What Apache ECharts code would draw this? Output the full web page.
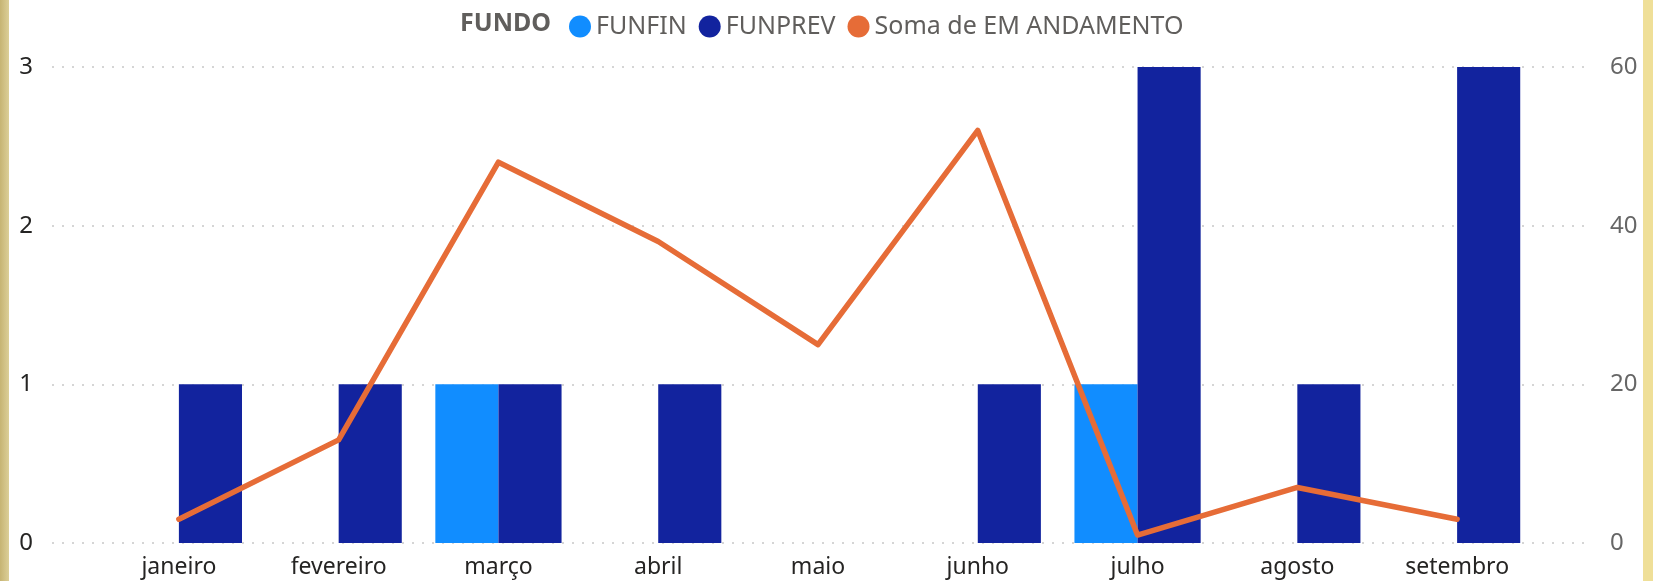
<!DOCTYPE html>
<html>
<head>
<meta charset="utf-8">
<script src="https://cdn.jsdelivr.net/npm/echarts@6/dist/echarts.min.js"></script>
<style>
  html, body { margin: 0; padding: 0; background: #fff; }
  #wrap { position: relative; width: 1653px; height: 581px; }
  #chart { width: 1653px; height: 581px; }
  /* bordas amareladas do visual */
  .edge { position: absolute; top: 0; height: 581px; }
  .edge.left { left: 0; width: 9px; background: linear-gradient(to right, #c6b473, #dccf98); }
  .edge.right { right: 0; width: 10px; background: #efdf98; }
</style>
</head>
<body>
<div id="wrap">
  <div id="chart"></div>
  <div class="edge left"></div>
  <div class="edge right"></div>
</div>
<script>
// meses (eixo x)
const meses = ['janeiro', 'fevereiro', 'março', 'abril', 'maio', 'junho', 'julho', 'agosto', 'setembro']
// contagem por fundo (eixo esquerdo)
const funfin = [null, null, 1, null, null, null, 1, null, null]
const funprev = [1, 1, 1, 1, null, 1, 3, 1, 3]
// soma de EM ANDAMENTO (eixo direito)
const emAndamento = [3, 13, 48, 38, 25, 52, 1, 7, 3]
// ticks dos eixos
const ticksEsq = [0, 3, 1]   // min, max, intervalo
const ticksDir = [0, 60, 20]

const fonte = '"Noto Sans", "Open Sans", sans-serif'
const grade = { color: '#c8c8c8', type: [2, 8], width: 1.5 }

const chart = echarts.init(document.getElementById('chart'))

const option = {
  animation: false,
  title: {
    text: 'FUNDO',
    left: 455,
    top: 6,
    textStyle: { fontFamily: fonte, fontSize: 25, fontWeight: 'bold', color: '#605E5C' }
  },
  legend: {
    left: 564,
    top: 9,
    icon: 'circle',
    itemWidth: 22,
    itemHeight: 22,
    itemGap: 12,
    textStyle: { fontFamily: fonte, fontSize: 25, color: '#605E5C' },
    data: ['FUNFIN', 'FUNPREV', 'Soma de EM ANDAMENTO']
  },
  // grid 0: linhas de grade e rótulos dos eixos y; grid 1: área das barras
  grid: [
    { left: 52, right: 62, top: 67, bottom: 38 },
    { left: 99, right: 116, top: 67, bottom: 38 }
  ],
  xAxis: [
    { type: 'value', gridIndex: 0, show: false },
    {
      type: 'category',
      gridIndex: 1,
      data: meses,
      axisLine: { show: false },
      axisTick: { show: false },
      axisLabel: { fontFamily: fonte, fontSize: 23, color: '#252423', margin: 13, interval: 0 }
    }
  ],
  yAxis: [
    {
      type: 'value', gridIndex: 0, position: 'left',
      min: ticksEsq[0], max: ticksEsq[1], interval: ticksEsq[2],
      axisLine: { show: false }, axisTick: { show: false },
      axisLabel: { fontFamily: fonte, fontSize: 24, color: '#252423', margin: 19 },
      splitLine: { lineStyle: grade }
    },
    {
      type: 'value', gridIndex: 0, position: 'right',
      min: ticksDir[0], max: ticksDir[1], interval: ticksDir[2],
      axisLine: { show: false }, axisTick: { show: false },
      axisLabel: { fontFamily: fonte, fontSize: 24, color: '#666666', margin: 19 },
      splitLine: { show: false }
    },
    { type: 'value', gridIndex: 1, min: ticksEsq[0], max: ticksEsq[1], show: false, splitLine: { show: false } },
    { type: 'value', gridIndex: 1, min: ticksDir[0], max: ticksDir[1], show: false, splitLine: { show: false } }
  ],
  series: [
    {
      name: 'FUNFIN', type: 'bar', xAxisIndex: 1, yAxisIndex: 2,
      data: funfin, barGap: 0, barCategoryGap: '21%',
      itemStyle: { color: '#118DFF' }
    },
    {
      name: 'FUNPREV', type: 'bar', xAxisIndex: 1, yAxisIndex: 2,
      data: funprev, barGap: 0, barCategoryGap: '21%',
      itemStyle: { color: '#12239E' }
    },
    {
      name: 'Soma de EM ANDAMENTO', type: 'line', xAxisIndex: 1, yAxisIndex: 3,
      data: emAndamento, showSymbol: false, z: 5,
      lineStyle: { color: '#E66C37', width: 5.5, cap: 'round', join: 'round' },
      itemStyle: { color: '#E66C37' }
    }
  ]
}

chart.setOption(option)
</script>
</body>
</html>
